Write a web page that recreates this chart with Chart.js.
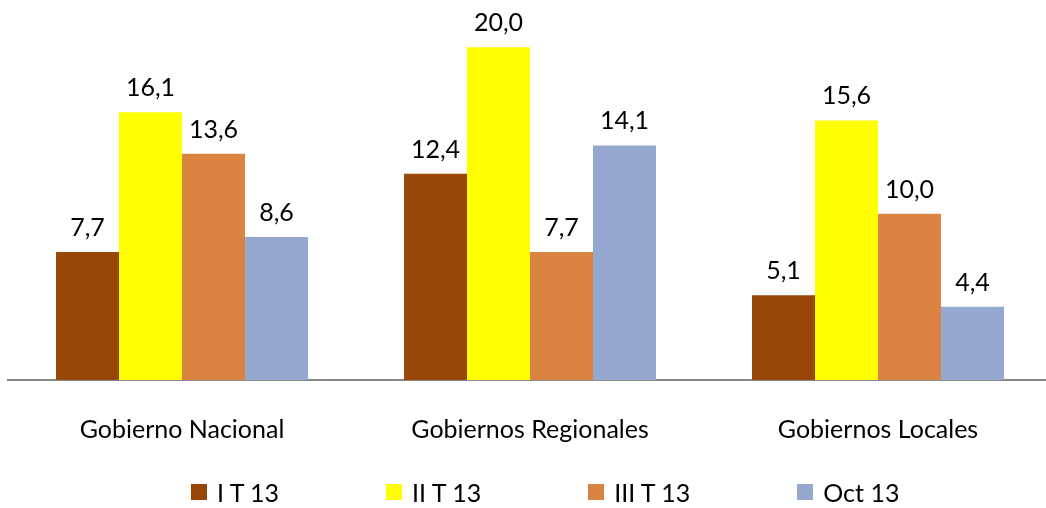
<!DOCTYPE html>
<html>
<head>
<meta charset="utf-8">
<script src="https://cdn.jsdelivr.net/npm/chart.js@4/dist/chart.umd.min.js"></script>
<style>
  html, body { margin: 0; padding: 0; background: #fff; overflow: hidden; }
  #wrap { position: relative; width: 1054px; height: 508px; }
  #legend {
    position: absolute; left: 191px; top: 477px;
    display: flex; gap: 107px;
    font: 25px Lato, "Liberation Sans", sans-serif; line-height: 30px; color: #000;
  }
  #legend .item { display: flex; align-items: center; }
  #legend .box { width: 16px; height: 16px; margin-right: 10px; }
</style>
</head>
<body>
<div id="wrap">
  <canvas id="chart-bars"></canvas>
  <div id="legend"></div>
</div>
<script>
// gasto por nivel de gobierno
const categories = ["Gobierno Nacional", "Gobiernos Regionales", "Gobiernos Locales"];
const seriesNames = ["I T 13", "II T 13", "III T 13", "Oct 13"];
const serieIT13 = [7.7, 12.4, 5.1];
const serieIIT13 = [16.1, 20.0, 15.6];
const serieIIIT13 = [13.6, 7.7, 10.0];
const serieOct13 = [8.6, 14.1, 4.4];
const colors = ["#994709", "#ffff00", "#db8441", "#95a9d0"];

const fontFamily = "Lato, 'Liberation Sans', sans-serif";

// valores encima de cada barra
const barLabels = {
  id: "barLabels",
  afterDatasetsDraw(chart) {
    const ctx = chart.ctx;
    ctx.save();
    ctx.font = "25px " + fontFamily;
    ctx.fillStyle = "#000";
    ctx.textAlign = "center";
    ctx.textBaseline = "alphabetic";
    chart.data.datasets.forEach((ds, i) => {
      chart.getDatasetMeta(i).data.forEach((bar, j) => {
        ctx.fillText(ds.data[j].toFixed(1).replace(".", ","), bar.x, bar.y - 16);
      });
    });
    ctx.restore();
  },
};

const allSeries = [serieIT13, serieIIT13, serieIIIT13, serieOct13];

const chart = new Chart("chart-bars", {
  type: "bar",
  data: {
    labels: categories,
    datasets: allSeries.map((d, i) => ({
      label: seriesNames[i],
      data: d,
      backgroundColor: colors[i],
      borderWidth: 0,
      categoryPercentage: 0.724,
      barPercentage: 1.0,
    })),
  },
  options: {
    responsive: true,
    maintainAspectRatio: false,
    animation: false,
    layout: {
      padding: { top: 14, left: 8, right: 2, bottom: 28 },
    },
    plugins: {
      legend: { display: false },
      tooltip: { enabled: false },
    },
    scales: {
      y: {
        display: false,
        min: 0,
        max: 22,
      },
      x: {
        grid: { display: false, drawTicks: false },
        border: { display: true, color: "#878787", width: 2 },
        ticks: {
          padding: 35,
          color: "#000",
          font: { size: 25, family: fontFamily },
        },
      },
    },
  },
  plugins: [barLabels],
});

// leyenda
const legendEl = document.getElementById("legend");
chart.data.datasets.forEach((ds) => {
  const item = document.createElement("div");
  item.className = "item";
  const box = document.createElement("span");
  box.className = "box";
  box.style.background = ds.backgroundColor;
  const txt = document.createElement("span");
  txt.textContent = ds.label;
  item.appendChild(box);
  item.appendChild(txt);
  legendEl.appendChild(item);
});
</script>
</body>
</html>
